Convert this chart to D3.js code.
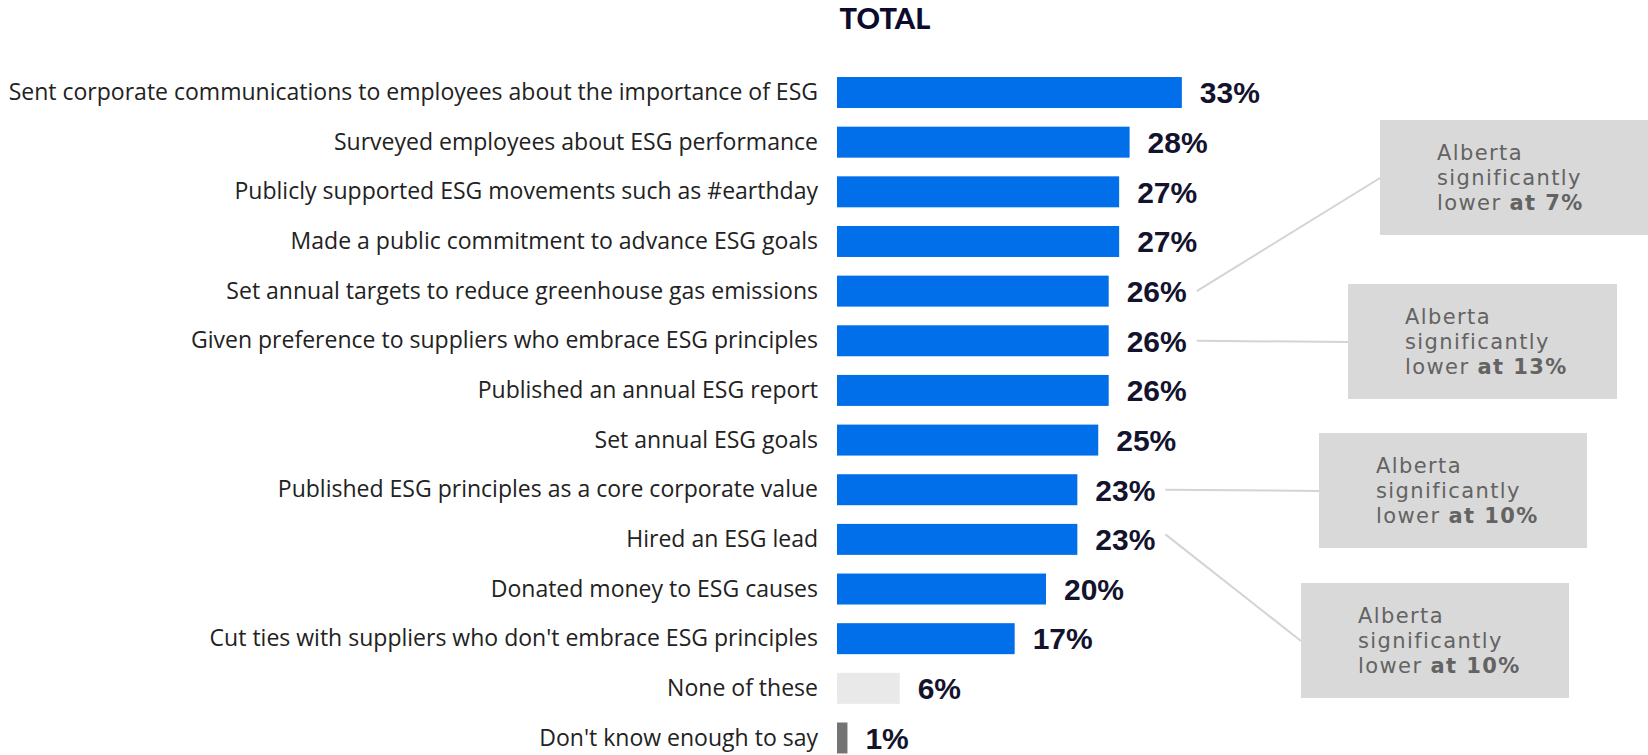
<!DOCTYPE html>
<html>
<head>
<meta charset="utf-8">
<script src="https://cdn.jsdelivr.net/npm/d3@7"></script>
<style>
  html, body { margin: 0; padding: 0; background: #ffffff; }
  svg { display: block; }
</style>
</head>
<body>
<svg id="chart" width="1648" height="755"></svg>
<script>
// ESG actions taken by organizations, share of all respondents (%)
const title = "TOTAL";

const categories = [
  "Sent corporate communications to employees about the importance of ESG",
  "Surveyed employees about ESG performance",
  "Publicly supported ESG movements such as #earthday",
  "Made a public commitment to advance ESG goals",
  "Set annual targets to reduce greenhouse gas emissions",
  "Given preference to suppliers who embrace ESG principles",
  "Published an annual ESG report",
  "Set annual ESG goals",
  "Published ESG principles as a core corporate value",
  "Hired an ESG lead",
  "Donated money to ESG causes",
  "Cut ties with suppliers who don't embrace ESG principles",
  "None of these",
  "Don't know enough to say"
];

const values = [33, 28, 27, 27, 26, 26, 26, 25, 23, 23, 20, 17, 6, 1];

// bar kind: regular answer, "none", "don't know"
const kinds = ["main","main","main","main","main","main","main","main","main","main","main","main","none","dk"];

// Regional call-outs: which answer they refer to and the Alberta figure
const noteCategories = [
  "Set annual targets to reduce greenhouse gas emissions",
  "Given preference to suppliers who embrace ESG principles",
  "Published ESG principles as a core corporate value",
  "Hired an ESG lead"
];
const noteValues = [7, 13, 10, 10];

// Call-out box placement (layout only)
const noteBoxes = [
  { x: 1380, y: 120, w: 290, h: 115 },
  { x: 1348, y: 284, w: 269, h: 115 },
  { x: 1319, y: 433, w: 268, h: 115 },
  { x: 1301, y: 583, w: 268, h: 115 }
];

const colors = { main: "#006fe9", none: "#e9e9e9", dk: "#747474" };

const svg = d3.select("#chart");

const x = d3.scaleLinear().domain([0, 100]).range([837, 837 + 1045]);
const y = d3.scaleBand()
  .domain(categories)
  .range([67.7, 762.8])
  .paddingInner(0.376)
  .paddingOuter(0.188);

// Title
svg.append("text")
  .attr("x", 885)
  .attr("y", 29)
  .attr("text-anchor", "middle")
  .attr("font-family", "Lato, 'Open Sans', sans-serif")
  .attr("font-weight", 900)
  .attr("font-size", 29)
  .attr("fill", "#0b0b2e")
  .text(title);

// Category labels, sized so the longest fits the label column
const labelG = svg.append("g");
const labels = labelG.selectAll("text")
  .data(categories)
  .join("text")
  .attr("x", 818)
  .attr("y", d => y(d) + y.bandwidth() / 2)
  .attr("dy", "0.33em")
  .attr("text-anchor", "end")
  .attr("font-family", "'Open Sans', sans-serif")
  .attr("font-weight", 400)
  .attr("font-size", 22)
  .attr("fill", "#222")
  .text(d => d);
const longest = d3.max(labels.nodes(), n => n.getComputedTextLength());
const fitSize = 22 * 810 / longest;
labels.attr("font-size", fitSize);

// Bars
svg.append("g").selectAll("rect")
  .data(categories)
  .join("rect")
  .attr("x", x(0))
  .attr("y", d => y(d))
  .attr("width", (d, i) => x(values[i]) - x(0))
  .attr("height", y.bandwidth())
  .attr("fill", (d, i) => colors[kinds[i]]);

// Value labels
const valueLabels = svg.append("g").selectAll("text")
  .data(categories)
  .join("text")
  .attr("x", (d, i) => x(values[i]) + 18)
  .attr("y", d => y(d) + y.bandwidth() / 2)
  .attr("dy", "0.36em")
  .attr("font-family", "'Liberation Sans', Arial, sans-serif")
  .attr("font-weight", 700)
  .attr("font-size", 30)
  .attr("fill", "#13132e")
  .text((d, i) => values[i] + "%");

const labelEnd = {};
valueLabels.each(function(d, i) {
  labelEnd[d] = x(values[i]) + 18 + this.getComputedTextLength();
});

// Call-outs: connector, box and three lines of text
const notes = svg.append("g");
const noteFont = { family: "'DejaVu Sans', sans-serif", size: 21, spacing: 1.4 };
noteCategories.forEach((cat, i) => {
  const b = noteBoxes[i];
  const x0 = labelEnd[cat] + 10;
  const y0 = y(cat) + y.bandwidth() / 2 + (i === 3 ? -5 : 0);
  notes.append("line")
    .attr("x1", x0).attr("y1", y0)
    .attr("x2", b.x).attr("y2", b.y + 58)
    .attr("stroke", "#d4d4d4")
    .attr("stroke-width", 2);
  notes.append("rect")
    .attr("x", b.x).attr("y", b.y)
    .attr("width", b.w).attr("height", b.h)
    .attr("fill", "#d9d9d9");
  const lines = [
    [["Alberta", 400]],
    [["significantly", 400]],
    [["lower ", 400], ["at " + noteValues[i] + "%", 700]]
  ];
  lines.forEach((parts, k) => {
    const t = notes.append("text")
      .attr("x", b.x + 57)
      .attr("y", b.y + 40 + k * 25)
      .attr("font-family", noteFont.family)
      .attr("font-size", noteFont.size)
      .attr("letter-spacing", noteFont.spacing)
      .attr("fill", "#636363");
    parts.forEach(([s, w]) => t.append("tspan").attr("font-weight", w).text(s));
  });
});
</script>
</body>
</html>
